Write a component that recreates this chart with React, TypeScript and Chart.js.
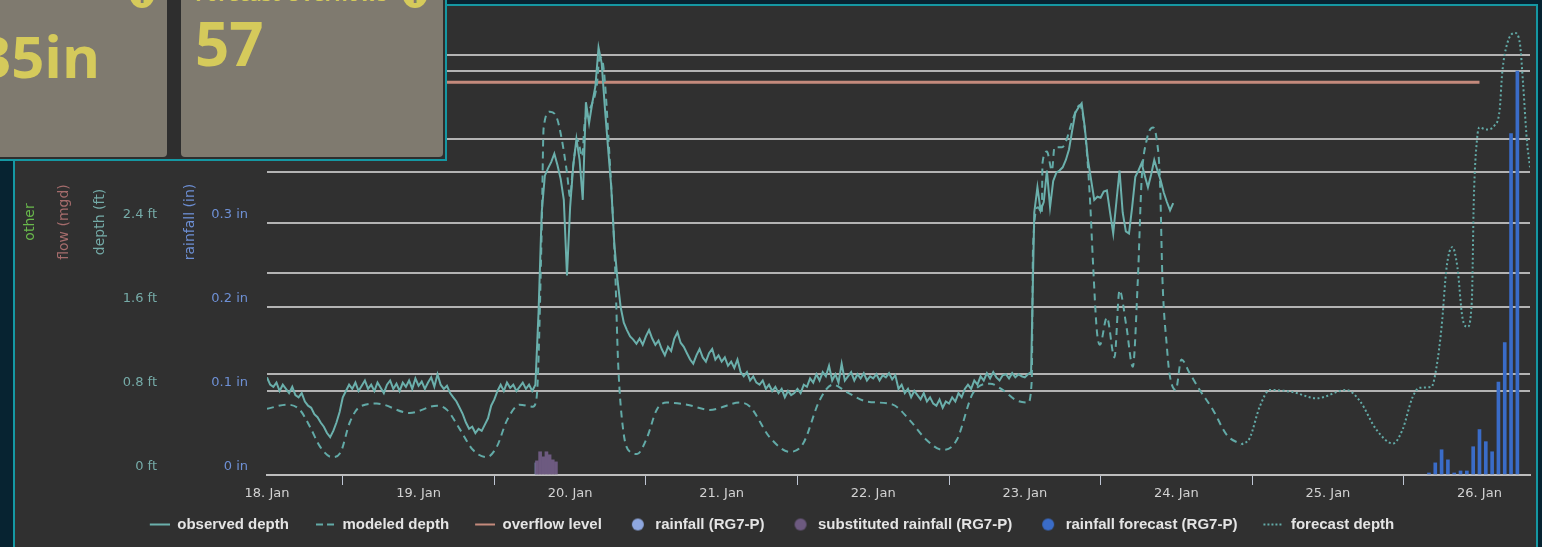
import React, { useEffect, useRef } from 'react';
import { Chart, registerables } from 'chart.js';

Chart.register(...registerables);

// ---------- data ----------
// x values are hours since 18 Jan 00:00
const dayTicks = [0, 24, 48, 72, 96, 120, 144, 168, 192];
const dayLabels = ['18. Jan', '19. Jan', '20. Jan', '21. Jan', '22. Jan', '23. Jan', '24. Jan', '25. Jan', '26. Jan'];

const depthTicks = [0, 0.8, 1.6, 2.4, 3.2, 4.0];
const depthTickLabels = ['0 ft', '0.8 ft', '1.6 ft', '2.4 ft', '3.2 ft', '4 ft'];
const rainTickLabels = ['0 in', '0.1 in', '0.2 in', '0.3 in', '0.4 in', '0.5 in'];
const rainGridTicks = [0, 0.1, 0.2, 0.3, 0.4];

const DEPTH_AXIS_MAX = 4.333;
const RAIN_AXIS_MAX = 0.4505;
const X_MAX_HOURS = 200;

// observed depth (ft), one reading every half hour from 18 Jan 00:00
const OBS_STEP_HOURS = 0.5;
const observedDepth = [
  0.93, 0.86, 0.84, 0.88, 0.80, 0.86, 0.82, 0.78, 0.84, 0.76, 0.74, 0.78,
  0.70, 0.66, 0.64, 0.58, 0.55, 0.50, 0.46, 0.40, 0.36, 0.42, 0.50, 0.60,
  0.74, 0.80, 0.86, 0.82, 0.88, 0.80, 0.85, 0.90, 0.82, 0.86, 0.80, 0.88,
  0.83, 0.78, 0.86, 0.90, 0.82, 0.87, 0.80, 0.88, 0.84, 0.90, 0.82, 0.92,
  0.85, 0.89, 0.82, 0.88, 0.93, 0.84, 0.96, 0.86, 0.82, 0.85, 0.78, 0.74,
  0.70, 0.64, 0.58, 0.50, 0.44, 0.46, 0.40, 0.44, 0.42, 0.48, 0.54, 0.66,
  0.72, 0.80, 0.86, 0.80, 0.88, 0.83, 0.86, 0.80, 0.84, 0.88, 0.82, 0.86,
  0.80, 0.86, 1.55, 2.50, 2.85, 2.92, 2.98, 3.06, 2.95, 2.82, 2.62, 1.90,
  2.55, 2.95, 3.20, 3.00, 2.62, 3.55, 3.35, 3.54, 3.70, 4.07, 3.92, 3.50,
  3.12, 2.75, 2.20, 1.86, 1.60, 1.45, 1.38, 1.32, 1.29, 1.25, 1.30, 1.24,
  1.32, 1.38, 1.30, 1.24, 1.28, 1.20, 1.14, 1.22, 1.18, 1.30, 1.36, 1.26,
  1.22, 1.16, 1.10, 1.06, 1.14, 1.20, 1.12, 1.08, 1.16, 1.20, 1.10, 1.14,
  1.08, 1.12, 1.04, 1.08, 1.02, 1.10, 0.98, 0.94, 0.98, 0.90, 0.94, 0.88,
  0.86, 0.90, 0.82, 0.86, 0.80, 0.84, 0.78, 0.82, 0.74, 0.80, 0.76, 0.78,
  0.82, 0.78, 0.86, 0.84, 0.92, 0.88, 0.96, 0.90, 0.98, 0.94, 1.04, 0.90,
  0.96, 0.88, 1.06, 0.90, 0.94, 0.98, 0.90, 0.96, 0.92, 0.97, 0.90, 0.94,
  0.92, 0.96, 0.90, 0.95, 0.93, 0.97, 0.91, 0.95, 0.82, 0.86, 0.78, 0.82,
  0.74, 0.80, 0.76, 0.72, 0.78, 0.70, 0.74, 0.68, 0.66, 0.72, 0.64, 0.70,
  0.68, 0.74, 0.70, 0.78, 0.74, 0.82, 0.86, 0.82, 0.90, 0.86, 0.94, 0.90,
  0.97, 0.92, 0.98, 0.93, 0.90, 0.95, 0.96, 0.92, 0.97, 0.93, 0.96, 0.94,
  0.93, 0.96, 0.98, 2.50, 2.74, 2.52, 2.60, 2.90, 2.55, 2.80, 2.88, 2.90,
  2.93, 3.00, 3.10, 3.28, 3.45, 3.50, 3.54, 3.31, 3.00, 2.81, 2.62, 2.65,
  2.64, 2.70, 2.71, 2.50, 2.30, 2.60, 2.90, 2.50, 2.32, 2.30, 2.55, 2.84,
  2.90, 2.97, 2.85, 2.74, 2.86, 3.00, 2.90, 2.81, 2.69, 2.60, 2.52, 2.59,
];

// modeled depth (ft)
const modeledHours = [
  0, 3.2, 5.2, 6.8, 8.4, 10.3, 11.6, 13.1, 14.7, 17.4, 22.6, 26.9, 28.5, 30.6, 32.6, 34.8, 36.4, 38.0, 40.0, 42.1,
  42.7, 43.5, 43.8, 44.8, 45.9, 46.7, 47.5, 48.0, 48.4, 49.2, 49.9, 50.3, 51.1, 52.2, 52.7, 53.2, 54.3, 55.1, 55.6, 56.4,
  57.5, 58.6, 60.2, 61.7, 63.3, 66.5, 70.1, 74.9, 76.5, 79.6, 82.8, 84.9, 87.5, 89.6, 91.8, 95.0, 99.1, 101.8, 104.5, 107.0,
  109.2, 111.8, 114.5, 116.5, 118.7, 120.5, 121.1, 121.3, 122.1, 122.7, 122.8, 123.5, 124.3, 124.7, 125.9, 126.6, 127.4, 128.7, 129.5, 130.3,
  130.8, 131.4, 131.9, 133.0, 134.2, 135.0, 136.1, 137.1, 137.9, 138.5, 139.3, 140.3, 140.9, 141.4, 141.8, 142.5, 142.9, 143.9, 144.8, 146.1,
  147.7, 149.8, 152.0, 154.3,
];
const modeledDepth = [
  0.63, 0.67, 0.62, 0.46, 0.27, 0.17, 0.21, 0.50, 0.65, 0.68, 0.59, 0.66, 0.62, 0.43, 0.24, 0.17, 0.27, 0.52, 0.67, 0.65,
  0.74, 2.33, 3.30, 3.46, 3.40, 3.19, 2.88, 2.65, 2.90, 3.19, 3.03, 3.35, 3.48, 3.70, 3.98, 3.92, 2.97, 2.02, 1.07, 0.43,
  0.22, 0.20, 0.36, 0.62, 0.69, 0.67, 0.62, 0.69, 0.65, 0.36, 0.22, 0.30, 0.71, 0.86, 0.79, 0.70, 0.67, 0.52, 0.33, 0.24,
  0.33, 0.78, 0.87, 0.81, 0.71, 0.69, 0.90, 2.17, 2.55, 2.49, 2.97, 3.08, 2.90, 3.12, 3.12, 3.19, 3.35, 3.52, 3.29, 2.65,
  2.02, 1.38, 1.24, 1.50, 1.12, 1.76, 1.41, 1.03, 1.86, 2.81, 3.19, 3.31, 3.19, 2.81, 1.86, 1.22, 0.97, 0.81, 1.10, 0.97,
  0.81, 0.62, 0.38, 0.29,
];

// forecast depth (ft)
const forecastHours = [
  154.3, 155.6, 157.2, 158.8, 162.4, 166.2, 170.9, 173.0, 175.7, 178.3, 179.8, 181.4, 182.5, 184.4, 185.2, 186.0, 186.8, 187.7,
  188.5, 189.3, 190.1, 190.8, 191.1, 191.6, 192.0, 193.1, 194.4, 195.2, 195.6, 196.4, 197.6, 198.4, 198.9, 199.5, 200.0,
];
const forecastDepth = [
  0.29, 0.35, 0.65, 0.81, 0.79, 0.73, 0.81, 0.71, 0.43, 0.30, 0.43, 0.74, 0.83, 0.84, 1.03, 1.41, 1.98, 2.17,
  1.98, 1.50, 1.41, 1.67, 2.62, 3.19, 3.31, 3.29, 3.33, 3.48, 3.83, 4.11, 4.21, 4.11, 3.73, 3.19, 2.93,
];

// overflow level (ft)
const overflowHours = [0, 192];
const overflowLevel = [3.74, 3.74];

// rainfall (in)
const rainHours = [42.6];
const rainfall = [0.012];
const substitutedHours = [42.75, 43.25, 43.75, 44.25, 44.75, 45.25, 45.75];
const substitutedRain = [0.014, 0.023, 0.018, 0.023, 0.020, 0.015, 0.013];
const forecastRainHours = [184, 185, 186, 187, 188, 189, 190, 191, 192, 193, 194, 195, 196, 197, 198];
const forecastRain = [0.002, 0.012, 0.025, 0.015, 0.002, 0.004, 0.004, 0.028, 0.045, 0.033, 0.023, 0.092, 0.131, 0.338, 0.400];

// ---------- styles ----------
const C_TEAL = '#6bb0ac';
const C_TEAL_DASH = '#62aaa7';
const C_OVERFLOW = '#c48a7c';
const C_RAIN = '#8ea7df';
const C_SUB = '#6d5a80';
const C_FC_RAIN = '#3a6cc8';
const C_GRID = '#b3b3b3';
const C_BORDER = '#1598a3';
const C_YELLOW = '#d5ca5b';
const C_PANEL = '#7f7a6f';

const LEGEND_BOX = 34; // symbol box; symbol itself occupies its right 20px
const LEGEND_SYMBOL = 20;

function pairs(xs: number[], ys: number[]) {
  return xs.map((x, i) => ({ x, y: ys[i] }));
}

function makeSymbol(kind: string, color: string): HTMLCanvasElement {
  const c = document.createElement('canvas');
  c.width = LEGEND_BOX;
  c.height = 14;
  const g = c.getContext('2d')!;
  const x0 = LEGEND_BOX - LEGEND_SYMBOL;
  if (kind === 'circle') {
    g.fillStyle = color;
    g.beginPath();
    g.arc(x0 + 10, 7, 6, 0, Math.PI * 2);
    g.fill();
  } else {
    g.strokeStyle = color;
    g.lineWidth = 2;
    if (kind === 'dash') g.setLineDash([7, 4]);
    if (kind === 'dot') g.setLineDash([2, 2]);
    g.beginPath();
    g.moveTo(x0 + (kind === 'dash' ? 1 : 0), 7);
    g.lineTo(x0 + LEGEND_SYMBOL, 7);
    g.stroke();
  }
  return c;
}

const frame = {
  id: 'frame',
  beforeDraw(chart: any) {
    const { ctx, width, height } = chart;
    ctx.save();
    ctx.fillStyle = '#072331';
    ctx.fillRect(0, 0, width, height);
    ctx.fillStyle = '#303030';
    ctx.fillRect(14, 5, width - 19, height);
    ctx.strokeStyle = C_BORDER;
    ctx.lineWidth = 2;
    ctx.strokeRect(14, 5, width - 19, height + 20);

    const titles = [
      { text: 'other', x: 30, color: '#69b84c' },
      { text: 'flow (mgd)', x: 64, color: '#a56c6c' },
      { text: 'depth (ft)', x: 100, color: '#74aaa7' },
      { text: 'rainfall (in)', x: 190, color: '#6d8fd4' },
    ];
    ctx.font = '14px "DejaVu Sans", sans-serif';
    ctx.textAlign = 'center';
    ctx.textBaseline = 'middle';
    for (const t of titles) {
      ctx.save();
      ctx.translate(t.x, 222);
      ctx.rotate(-Math.PI / 2);
      ctx.fillStyle = t.color;
      ctx.fillText(t.text, 0, 0);
      ctx.restore();
    }
    ctx.restore();
  },
};

export default function App() {
  const ref = useRef<HTMLCanvasElement | null>(null);

  useEffect(() => {
    document.body.style.margin = '0';
    const canvas = ref.current!;
    const legendItems = [
      { text: 'observed depth', sym: makeSymbol('line', C_TEAL) },
      { text: 'modeled depth', sym: makeSymbol('dash', C_TEAL_DASH) },
      { text: 'overflow level', sym: makeSymbol('line', C_OVERFLOW) },
      { text: 'rainfall (RG7-P)', sym: makeSymbol('circle', C_RAIN) },
      { text: 'substituted rainfall (RG7-P)', sym: makeSymbol('circle', C_SUB) },
      { text: 'rainfall forecast (RG7-P)', sym: makeSymbol('circle', C_FC_RAIN) },
      { text: 'forecast depth', sym: makeSymbol('dot', C_TEAL_DASH) },
    ];
    const tickFont = { family: '"DejaVu Sans", sans-serif', size: 13 };

    const chart = new Chart(canvas, {
      type: 'line',
      data: {
        datasets: [
          {
            type: 'line',
            label: 'observed depth',
            data: observedDepth.map((v, i) => ({ x: i * OBS_STEP_HOURS, y: v })),
            yAxisID: 'yDepth',
            borderColor: C_TEAL,
            borderWidth: 2,
            pointRadius: 0,
            tension: 0,
            order: 1,
          },
          {
            type: 'line',
            label: 'modeled depth',
            data: pairs(modeledHours, modeledDepth),
            yAxisID: 'yDepth',
            borderColor: C_TEAL_DASH,
            borderWidth: 2,
            borderDash: [7, 5],
            pointRadius: 0,
            cubicInterpolationMode: 'monotone',
            order: 2,
          },
          {
            type: 'line',
            label: 'overflow level',
            data: pairs(overflowHours, overflowLevel),
            yAxisID: 'yDepth',
            borderColor: C_OVERFLOW,
            borderWidth: 3,
            pointRadius: 0,
            order: 3,
          },
          {
            type: 'bar',
            label: 'rainfall (RG7-P)',
            data: pairs(rainHours, rainfall),
            yAxisID: 'yRain',
            backgroundColor: C_RAIN,
            barThickness: 2,
            grouped: false,
            order: 12,
          },
          {
            type: 'bar',
            label: 'substituted rainfall (RG7-P)',
            data: pairs(substitutedHours, substitutedRain),
            yAxisID: 'yRain',
            backgroundColor: C_SUB,
            barThickness: 3,
            grouped: false,
            order: 11,
          },
          {
            type: 'bar',
            label: 'rainfall forecast (RG7-P)',
            data: pairs(forecastRainHours, forecastRain),
            yAxisID: 'yRain',
            backgroundColor: C_FC_RAIN,
            barThickness: 3,
            grouped: false,
            order: 10,
          },
          {
            type: 'line',
            label: 'forecast depth',
            data: pairs(forecastHours, forecastDepth),
            yAxisID: 'yDepth',
            borderColor: C_TEAL_DASH,
            borderWidth: 2,
            borderDash: [2, 2.5],
            pointRadius: 0,
            cubicInterpolationMode: 'monotone',
            order: 0,
          },
        ] as any,
      },
      options: {
        responsive: false,
        animation: false,
        devicePixelRatio: 1,
        events: [],
        layout: { padding: { left: 0, right: 12, top: 20, bottom: 5 } },
        plugins: {
          tooltip: { enabled: false },
          legend: {
            position: 'bottom',
            align: 'center',
            labels: {
              usePointStyle: true,
              pointStyleWidth: LEGEND_BOX,
              padding: 12,
              color: '#e4e4e4',
              font: { family: '"Liberation Sans", Arial, sans-serif', size: 15, weight: 'bold' },
              generateLabels: () =>
                legendItems.map((it, i) => ({
                  text: it.text,
                  pointStyle: it.sym,
                  fillStyle: 'transparent',
                  strokeStyle: 'transparent',
                  lineWidth: 0,
                  hidden: false,
                  datasetIndex: i,
                  fontColor: '#e4e4e4',
                })) as any,
            },
          },
        },
        scales: {
          x: {
            type: 'linear',
            min: 0,
            max: X_MAX_HOURS,
            offset: false,
            afterBuildTicks: (s: any) => {
              s.ticks = dayTicks.map((v) => ({ value: v }));
            },
            afterFit: (s: any) => {
              s.height = 30;
            },
            ticks: {
              autoSkip: false,
              maxRotation: 0,
              padding: 1,
              color: '#d2d2d2',
              font: { family: '"DejaVu Sans", sans-serif', size: 13 },
              callback: (v: any) => {
                const i = dayTicks.indexOf(Number(v));
                return i >= 0 ? dayLabels[i] : '';
              },
            },
            grid: { drawOnChartArea: false, drawTicks: true, tickLength: 10, color: '#bfc6d4', lineWidth: 1 },
            border: { display: true, color: '#bdbdbd', width: 2 },
          },
          yDepth: {
            type: 'linear',
            position: 'left',
            weight: 3,
            min: 0,
            max: DEPTH_AXIS_MAX,
            afterBuildTicks: (s: any) => {
              s.ticks = depthTicks.map((v) => ({ value: v }));
            },
            afterFit: (s: any) => {
              s.width = 160;
            },
            ticks: {
              padding: 3,
              labelOffset: -8,
              color: '#76aba8',
              font: tickFont,
              callback: (_v: any, i: number) => depthTickLabels[i],
            },
            grid: { color: C_GRID, lineWidth: 2, drawTicks: false },
            border: { display: false },
          },
          yRainLabels: {
            type: 'linear',
            position: 'left',
            weight: 2,
            min: 0,
            max: DEPTH_AXIS_MAX,
            afterBuildTicks: (s: any) => {
              s.ticks = depthTicks.map((v) => ({ value: v }));
            },
            afterFit: (s: any) => {
              s.width = 92;
            },
            ticks: {
              padding: 4,
              labelOffset: -8,
              color: '#6e90d5',
              font: tickFont,
              callback: (_v: any, i: number) => rainTickLabels[i],
            },
            grid: { display: false, drawTicks: false },
            border: { display: false },
          },
          yRain: {
            type: 'linear',
            position: 'left',
            weight: 1,
            min: 0,
            max: RAIN_AXIS_MAX,
            afterBuildTicks: (s: any) => {
              s.ticks = rainGridTicks.map((v) => ({ value: v }));
            },
            afterFit: (s: any) => {
              s.width = 15;
            },
            ticks: { display: false },
            grid: { color: C_GRID, lineWidth: 2, drawTicks: false },
            border: { display: false },
          },
        },
      } as any,
      plugins: [frame],
    });
    return () => chart.destroy();
  }, []);

  const icon = (left: number) => (
    <div
      style={{
        position: 'absolute',
        left,
        top: -16,
        width: 24,
        height: 24,
        borderRadius: '50%',
        background: C_YELLOW,
        color: C_PANEL,
        fontSize: 18,
        fontWeight: 700,
        lineHeight: '24px',
        textAlign: 'center',
      }}
    >
      i
    </div>
  );

  return (
    <div style={{ position: 'absolute', left: 0, top: 0, width: 1542, height: 547, overflow: 'hidden' }}>
      <canvas ref={ref} width={1542} height={547} style={{ position: 'absolute', left: 0, top: 0, width: 1542, height: 547 }} />
      <div
        style={{
          position: 'absolute',
          left: 0,
          top: 0,
          width: 445,
          height: 159,
          background: '#2e2e2e',
          borderRight: `2px solid ${C_BORDER}`,
          borderBottom: `2px solid ${C_BORDER}`,
          overflow: 'hidden',
          fontFamily: '"Open Sans", sans-serif',
          color: C_YELLOW,
          fontWeight: 700,
        }}
      >
        <div style={{ position: 'absolute', left: -40, top: -20, width: 207, height: 177, background: C_PANEL, borderRadius: 4 }} />
        <div style={{ position: 'absolute', left: 181, top: -20, width: 262, height: 177, background: C_PANEL, borderRadius: 4 }} />
        {icon(130)}
        <div style={{ position: 'absolute', left: 195, top: -16, fontSize: 20, lineHeight: '20px', whiteSpace: 'nowrap' }}>
          Forecast Overflows
        </div>
        {icon(403)}
        <div style={{ position: 'absolute', left: -22, top: 27, fontSize: 58, lineHeight: '58px', whiteSpace: 'nowrap' }}>35in</div>
        <div style={{ position: 'absolute', left: 195, top: 13, fontSize: 60, lineHeight: '60px', whiteSpace: 'nowrap' }}>57</div>
      </div>
    </div>
  );
}
